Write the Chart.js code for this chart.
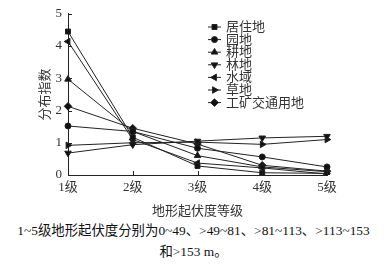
<!DOCTYPE html>
<html>
<head>
<meta charset="utf-8">
<script src="https://cdn.jsdelivr.net/npm/chart.js@4/dist/chart.umd.min.js"></script>
<style>
  body { margin: 0; background: #fff; }
  #wrap { position: relative; width: 387px; height: 218px; }
  .cap { width: 387px; text-align: center; font-family: "Liberation Serif", "Noto Sans CJK SC", serif; font-size: 13.4px; color: #111; line-height: 21px; }
</style>
</head>
<body>
<div id="wrap"><canvas id="c"></canvas></div>
<div class="cap" style="margin-top:2px">1~5级地形起伏度分别为0~49、&gt;49~81、&gt;81~113、&gt;113~153</div>
<div class="cap">和&gt;153 m。</div>
<script>
const levels = ["1级", "2级", "3级", "4级", "5级"];
const yTicks = [0, 1, 2, 3, 4, 5];

const juzhu = [4.45, 1.17, 0.28, 0.07, 0.05];   // 居住地
const yuandi = [1.52, 1.35, 0.83, 0.56, 0.25];  // 园地
const gengdi = [2.97, 1.35, 0.60, 0.25, 0.10];  // 耕地
const lindi = [0.68, 0.94, 1.05, 1.15, 1.20];   // 林地
const shuiyu = [4.14, 1.10, 0.37, 0.22, 0.03];  // 水域
const caodi = [0.92, 1.00, 1.02, 0.95, 1.10];   // 草地
const gongkuang = [2.13, 1.45, 0.96, 0.30, 0.12]; // 工矿交通用地

const seriesNames = ["居住地", "园地", "耕地", "林地", "水域", "草地", "工矿交通用地"];
const seriesData = [juzhu, yuandi, gengdi, lindi, shuiyu, caodi, gongkuang];
const styles = [
  { s: "rect", r: 0, rad: 3.5 },
  { s: "circle", r: 0, rad: 3 },
  { s: "triangle", r: 0, rad: 3.8 },
  { s: "triangle", r: 180, rad: 3.8 },
  { s: "triangle", r: -90, rad: 3.8 },
  { s: "triangle", r: 90, rad: 3.8 },
  { s: "rectRot", r: 0, rad: 3.8 }
];

const datasets = seriesData.map((d, i) => ({
  label: seriesNames[i],
  data: d,
  borderColor: "#222",
  backgroundColor: "#111",
  borderWidth: 1,
  pointStyle: styles[i].s,
  rotation: styles[i].r,
  pointRadius: styles[i].rad,
  pointBorderWidth: 1,
  tension: 0
}));

// ticks drawn inward and the legend inside the plot
const extras = {
  id: "extras",
  afterDraw(chart) {
    const ctx = chart.ctx;
    const xs = chart.scales.x, ys = chart.scales.y;
    ctx.save();
    ctx.strokeStyle = "#222";
    ctx.lineWidth = 1;
    ctx.beginPath();
    yTicks.forEach(v => {
      const y = Math.round(ys.getPixelForValue(v)) + 0.5;
      ctx.moveTo(xs.left, y); ctx.lineTo(xs.left + 4, y);
    });
    levels.forEach((l, i) => {
      const x = Math.round(xs.getPixelForValue(i)) + 0.5;
      ctx.moveTo(x, ys.bottom); ctx.lineTo(x, ys.bottom - 4);
    });
    ctx.stroke();

    // legend
    const lx = 208, ly = 27, step = 12.6;
    ctx.font = '13px "Liberation Serif", "Noto Sans CJK SC"';
    ctx.textBaseline = "middle";
    chart.data.datasets.forEach((ds, i) => {
      const y = ly + i * step;
      ctx.beginPath();
      ctx.moveTo(lx, y); ctx.lineTo(lx + 13, y);
      ctx.stroke();
      ctx.fillStyle = "#111";
      Chart.helpers.drawPoint(ctx, { pointStyle: ds.pointStyle, rotation: ds.rotation, radius: ds.pointRadius, borderWidth: 1 }, lx + 6.5, y);
      ctx.fillStyle = "#333";
      ctx.fillText(ds.label, lx + 18, y + 0.5);
    });
    ctx.restore();
  }
};

new Chart(document.getElementById("c"), {
  type: "line",
  data: { labels: levels, datasets },
  plugins: [extras],
  options: {
    responsive: true,
    maintainAspectRatio: false,
    animation: false,
    layout: { padding: { left: 36, right: 60, top: 11, bottom: 0 } },
    plugins: { legend: { display: false }, tooltip: { enabled: false } },
    scales: {
      x: {
        offset: false,
        afterFit(s) { s.height = 43; },
        grid: { display: false, drawTicks: false },
        border: { color: "#222", width: 1 },
        ticks: { color: "#333", padding: 5, font: { family: '"Liberation Serif", "Noto Sans CJK SC"', size: 13 } },
        title: { display: true, text: "地形起伏度等级", color: "#333", padding: { top: 4, bottom: 0 }, font: { family: '"Noto Sans CJK SC"', size: 13 } }
      },
      y: {
        min: 0, max: 5,
        afterFit(s) { s.width = 32; },
        afterBuildTicks(s) { s.ticks = yTicks.map(v => ({ value: v })); },
        grid: { display: false, drawTicks: false },
        border: { color: "#222", width: 1 },
        ticks: { color: "#333", padding: 6, font: { family: '"Liberation Serif"', size: 13 } },
        title: { display: true, text: "分布指数", color: "#333", padding: { top: 0, bottom: 2 }, font: { family: '"Noto Sans CJK SC"', size: 13 } }
      }
    }
  }
});
</script>
</body>
</html>
